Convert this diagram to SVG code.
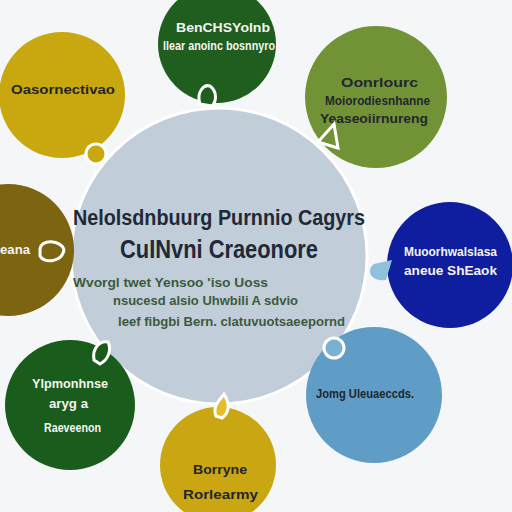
<svg xmlns="http://www.w3.org/2000/svg" width="512" height="512" viewBox="0 0 512 512">
<style>
.t{font-family:"Liberation Sans",Arial,sans-serif;font-weight:bold}
.d{fill:#22262e}
.w{fill:#f4f4f0}
.c{fill:#1f2937}
.g{fill:#3c5a3e;font-size:12px}
.ring{stroke:#ffffff;stroke-width:3}
</style>
<rect width="512" height="512" fill="#f4f6f8"/>
<g id="center">
  <circle cx="219" cy="256" r="148" fill="#c1cdd8" stroke="#ffffff" stroke-width="3"/>
  <text x="73" y="225" class="t c" font-size="22" textLength="292" lengthAdjust="spacingAndGlyphs">Nelolsdnbuurg  Purnnio  Cagyrs</text>
  <text x="120" y="258" class="t c" font-size="26" textLength="198" lengthAdjust="spacingAndGlyphs">CuINvni  Craeonore</text>
  <text x="73" y="287" class="t g" textLength="195" lengthAdjust="spacingAndGlyphs">Wvorgl  twet  Yensoo  'iso  Uoss</text>
  <text x="113" y="305" class="t g" textLength="185" lengthAdjust="spacingAndGlyphs">nsucesd  alsio  Uhwbili A sdvio</text>
  <text x="118" y="326" class="t g" textLength="227" lengthAdjust="spacingAndGlyphs">leef  fibgbi Bern.  clatuvuotsaeepornd</text>
</g>
<g id="top">
  <circle cx="217" cy="44" r="59" fill="#1f5e1f"/>
  <text x="176" y="32" class="t w" font-size="12" textLength="94" lengthAdjust="spacingAndGlyphs">BenCHSYolnb</text>
  <text x="163" y="50" class="t w" font-size="12" textLength="112" lengthAdjust="spacingAndGlyphs">llear  anoinc bosnnyro</text>
</g>
<g id="top-left">
  <circle cx="62" cy="95" r="63" fill="#c9a70f"/>
  <text x="11" y="94" class="t d" font-size="13" textLength="104" lengthAdjust="spacingAndGlyphs">Oasornectivao</text>
</g>
<g id="top-right">
  <circle cx="376" cy="97" r="71" fill="#729335"/>
  <text x="341" y="87" class="t d" font-size="13" textLength="77" lengthAdjust="spacingAndGlyphs">Oonrlourc</text>
  <text x="325" y="105" class="t d" font-size="13" textLength="105" lengthAdjust="spacingAndGlyphs">Moiorodiesnhanne</text>
  <text x="320" y="123" class="t d" font-size="13" textLength="108" lengthAdjust="spacingAndGlyphs">Yeaseoiirnureng</text>
</g>
<g id="left">
  <circle cx="8" cy="250" r="66" fill="#7c6410"/>
  <text x="0" y="254" class="t w" font-size="12" textLength="30" lengthAdjust="spacingAndGlyphs">eana</text>
</g>
<g id="right">
  <circle cx="450" cy="265" r="63" fill="#0f1e9e"/>
  <text x="404" y="256" class="t w" font-size="12" textLength="93" lengthAdjust="spacingAndGlyphs">Muoorhwalslasa</text>
  <text x="404" y="275" class="t w" font-size="12" textLength="93" lengthAdjust="spacingAndGlyphs">aneue  ShEaok</text>
</g>
<g id="bottom-right">
  <circle cx="374" cy="395" r="68" fill="#5f9dc7"/>
  <text x="316" y="398" class="t d" font-size="12" textLength="98" lengthAdjust="spacingAndGlyphs">Jomg  Uleuaeccds.</text>
</g>
<g id="bottom-left">
  <circle cx="70" cy="405" r="65" fill="#1a5c1b"/>
  <text x="32" y="388" class="t w" font-size="12" textLength="76" lengthAdjust="spacingAndGlyphs">Ylpmonhnse</text>
  <text x="49" y="408" class="t w" font-size="12" textLength="39" lengthAdjust="spacingAndGlyphs">aryg  a</text>
  <text x="44" y="432" class="t w" font-size="12" textLength="57" lengthAdjust="spacingAndGlyphs">Raeveenon</text>
</g>
<g id="bottom">
  <circle cx="218" cy="465" r="58" fill="#c9a612"/>
  <text x="193" y="474" class="t d" font-size="13" textLength="54" lengthAdjust="spacingAndGlyphs">Borryne</text>
  <text x="183" y="499" class="t d" font-size="13" textLength="75" lengthAdjust="spacingAndGlyphs">Rorlearmy</text>
</g>
<g id="connectors">
  <circle cx="96" cy="154" r="10" fill="#c9a70f" class="ring"/>
  <path d="M200,104 C196,92 204,84 210,86 C218,92 216,102 212,106 Z" fill="#1f5e1f" class="ring"/>
  <path d="M318,142 L334,124 L338,148 Z" fill="#729335" class="ring"/>
  <path d="M40,250 C40,238 62,240 64,250 C62,262 44,264 40,256 Z" fill="#7c6410" class="ring"/>
  <path d="M392,260 L374,264 C366,270 370,282 386,280 Z" fill="#8fc0dd"/>
  <circle cx="334" cy="348" r="10" fill="#7ab0d4" class="ring"/>
  <path d="M94,360 C92,348 100,340 108,342 C112,350 108,360 100,364 Z" fill="#1a5c1b" class="ring"/>
  <path d="M216,416 C212,406 220,400 224,394 C230,404 230,412 222,418 Z" fill="#e7be2a" class="ring"/>
</g>
</svg>
